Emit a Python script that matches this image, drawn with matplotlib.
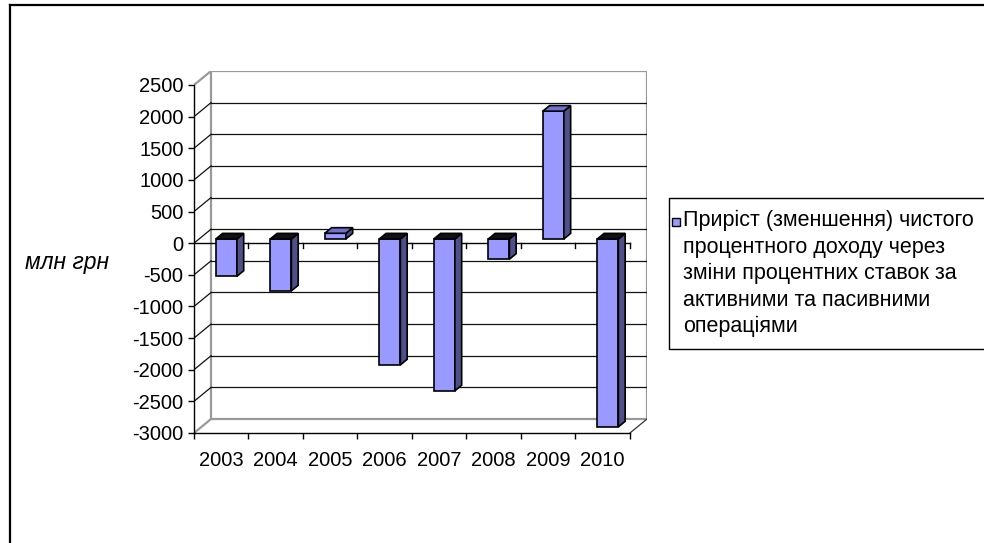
import matplotlib
matplotlib.use("Agg")
import matplotlib.pyplot as plt
from matplotlib.patches import Polygon, Rectangle
from matplotlib.lines import Line2D

plt.rcParams['font.family'] = ['Liberation Sans', 'DejaVu Sans']

years = ['2003', '2004', '2005', '2006', '2007', '2008', '2009', '2010']
values = [-590, -820, 90, -1990, -2400, -320, 2020, -2970]
yticks = list(range(-3000, 2501, 500))
ylabel = 'млн грн'
legend_label = ('Приріст (зменшення) чистого\nпроцентного доходу через\n'
                'зміни процентних ставок за\nактивними та пасивними\nопераціями')

W, H = 984, 543
fig = plt.figure(figsize=(W / 100, H / 100), dpi=100)

def fx(x):
    return x / W

def fy(y):
    return 1 - y / H

# pseudo-3D depth offsets (in data units)
DX = 17 / 54.375
DY = 221.0
YMIN, YMAX = -3000, 2500
N = len(years)

ax = fig.add_axes([fx(194), fy(433), fx(647) - fx(194), fy(71) - fy(433)])
ax.set_xlim(0, N + DX)
ax.set_ylim(YMIN, YMAX + DY)
for s in ['top', 'right']:
    ax.spines[s].set_visible(False)
ax.spines['left'].set_bounds(YMIN, YMAX)
ax.spines['bottom'].set_bounds(0, N)
for s in ['left', 'bottom']:
    ax.spines[s].set_color('black')
    ax.spines[s].set_linewidth(1.0)
ax.set_facecolor('none')

ax.set_yticks(yticks)
ax.set_yticklabels([str(v) for v in yticks], fontsize=14.5)
ax.tick_params(axis='y', length=4.5, width=1.0, pad=3, direction='out')
ax.set_xticks([i + 0.5 for i in range(N)])
ax.set_xticklabels(years, fontsize=14.5)
ax.tick_params(axis='x', which='major', length=0, pad=13)
ax.set_xticks(list(range(N + 1)), minor=True)
ax.tick_params(axis='x', which='minor', length=4, width=1.0, direction='out')

wall_col = '#999999'
# back wall
ax.add_patch(Rectangle((DX, YMIN + DY), N, YMAX - YMIN, facecolor='white',
                       edgecolor=wall_col, linewidth=1.6, zorder=0.5))
# back-wall gridlines and left-wall diagonals
for v in yticks:
    if YMIN < v < YMAX:
        ax.plot([DX, N + DX], [v + DY, v + DY], color='#111111', lw=0.9, zorder=0.6)
        ax.plot([0, DX], [v, v + DY], color='#111111', lw=0.9, zorder=0.6)
# left wall edges (top / bottom diagonals)
ax.plot([0, DX], [YMAX, YMAX + DY], color=wall_col, lw=1.6, zorder=0.6)
ax.plot([0, DX], [YMIN, YMIN + DY], color=wall_col, lw=1.6, zorder=0.6)
# floor right diagonal
ax.plot([N, N + DX], [YMIN, YMIN + DY], color='#333333', lw=0.9, zorder=0.6)

# category axis line at zero with ticks
tick_len = 4.5 / 0.06327
ax.plot([0, N], [0, 0], color='black', lw=1.0, zorder=0.7)
for k in range(1, N + 1):
    ax.plot([k, k], [0, -tick_len], color='black', lw=1.0, zorder=0.7)

# bars
w = 21 / 54.375
f0 = 0.3
bx, by = 0.4 * DX, 0.4 * DY
base = f0 * DY
front_col = '#9999FF'
side_col = '#4F4F8A'
top_col = '#7070D0'
lefts = [i + 0.5 - w / 2 + f0 * DX for i in range(N)]
ax.bar(lefts, values, width=w, bottom=base, align='edge', color=front_col,
       edgecolor='black', linewidth=1.2, zorder=2)
for xl, v in zip(lefts, values):
    xr = xl + w
    y0, y1 = base, base + v
    side = Polygon([(xr, y0), (xr, y1), (xr + bx, y1 + by), (xr + bx, y0 + by)],
                   closed=True, facecolor=side_col, edgecolor='black', lw=1.2, zorder=2)
    ax.add_patch(side)
    yt = max(y0, y1)
    tc = top_col if v > 0 else '#111111'
    top = Polygon([(xl, yt), (xr, yt), (xr + bx, yt + by), (xl + bx, yt + by)],
                  closed=True, facecolor=tc, edgecolor='black', lw=1.2, zorder=2)
    ax.add_patch(top)

# y-axis title
fig.text(fx(25), fy(262), ylabel, fontsize=16.5, style='italic',
         ha='left', va='center')

# legend (manual)
leg_left, leg_top, leg_bottom = 669, 198, 349
fig.patches.append(Rectangle((fx(leg_left), fy(leg_bottom)), fx(W + 20) - fx(leg_left),
                             fy(leg_top) - fy(leg_bottom), transform=fig.transFigure,
                             facecolor='white', edgecolor='black', linewidth=1.0))
fig.patches.append(Rectangle((fx(672), fy(226)), fx(8), 8 / H, transform=fig.transFigure,
                             facecolor=front_col, edgecolor='black', linewidth=1.0))
fig.text(fx(683), fy(210), legend_label, fontsize=15.5, ha='left', va='top',
         linespacing=1.34)

# outer chart border
fig.add_artist(Line2D([fx(10), fx(10)], [fy(5), -0.1], color='black', lw=1.6,
                      transform=fig.transFigure))
fig.add_artist(Line2D([fx(10), 1.1], [fy(5), fy(5)], color='black', lw=1.6,
                      transform=fig.transFigure))

fig.savefig('out.png', dpi=100)
